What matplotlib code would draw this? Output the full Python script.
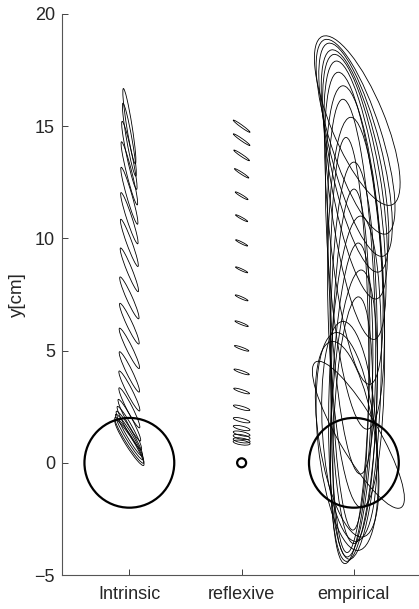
import matplotlib
matplotlib.use('Agg')
import matplotlib.pyplot as plt
from matplotlib.patches import Ellipse, Circle

plt.rcParams['font.family'] = ['Liberation Sans', 'DejaVu Sans']

categories = ['Intrinsic', 'reflexive', 'empirical']
cat_x = [0, 5, 10]
target_r = [2.0, 0.2, 2.0]

# trajectory sample positions (cm), shared by intrinsic and reflexive
traj_y = [0.9, 1.0, 1.15, 1.3, 1.55, 1.9, 2.45, 3.2, 4.05, 5.1,
          6.2, 7.35, 8.6, 9.8, 10.9, 11.9, 12.9, 13.7, 14.4, 15.0]

# intrinsic covariance ellipses: semi-axes (cm) and orientation (deg)
int_a = [1.2, 1.2, 1.18, 1.15, 1.1, 1.05, 1.0, 1.0, 1.0, 1.0,
         1.0, 1.02, 1.05, 1.12, 1.2, 1.32, 1.45, 1.55, 1.65, 1.7]
int_b = [0.18, 0.17, 0.16, 0.15, 0.14, 0.13, 0.13, 0.13, 0.13, 0.13,
         0.13, 0.13, 0.12, 0.12, 0.12, 0.12, 0.12, 0.12, 0.12, 0.12]
int_ang = [122, 122, 121, 120, 119, 118, 117, 117, 116, 116,
           115, 114, 112, 110, 108, 106, 104, 102, 100, 99]

# reflexive covariance ellipses
ref_a = [0.38, 0.38, 0.38, 0.38, 0.38, 0.38, 0.38, 0.37, 0.36, 0.34,
         0.32, 0.31, 0.3, 0.3, 0.31, 0.33, 0.38, 0.42, 0.45, 0.46]
ref_b = [0.1, 0.1, 0.1, 0.09, 0.085, 0.08, 0.07, 0.06, 0.055, 0.05,
         0.045, 0.045, 0.04, 0.04, 0.04, 0.045, 0.045, 0.05, 0.05, 0.05]
ref_ang = [-8, -9, -10, -12, -13, -14, -16, -18, -19, -20,
           -22, -24, -25, -27, -29, -31, -33, -34, -35, -36]

# empirical covariance ellipses (centre offset, centre y, semi-axes, angle)
emp_dx = [0.15, 0.075, 0.075, 0.05, 0.05, 0.05, 0.0, 0.05, -0.1, 0.1,
          -0.2, 0.0, -0.15, 0.05, -0.1, 0.0, -0.05, -0.3, -0.3, 0.2, -0.2]
emp_y = [15.25, 14.53, 13.95, 13.45, 12.75, 11.7, 10.45, 9.15, 7.85, 6.7,
         5.75, 4.9, 4.1, 3.35, 2.65, 2.1, 1.6, 0.95, 1.05, 1.25, 1.4]
emp_a = [4.06, 4.54, 4.9, 5.06, 5.53, 6.26, 6.99, 7.67, 8.36, 8.7,
         8.75, 8.5, 8.1, 7.65, 7.15, 6.5, 5.8, 4.88, 4.41, 3.76, 4.91]
emp_b = [1.2, 1.15, 1.12, 1.1, 1.1, 1.1, 1.1, 1.2, 1.0, 1.25,
         0.85, 1.05, 0.85, 1.15, 0.9, 1.0, 0.85, 1.3, 1.25, 0.9, 1.2]
emp_ang = [112.5, 107.6, 104.5, 102, 99.9, 97.8, 95.8, 94.1, 92.7, 91.6,
           91.0, 90, 88.9, 88.1, 87.6, 87.1, 87.5, 95.9, 99.1, 120.3, 93.5]

fig = plt.figure(figsize=(4.19, 6.09), dpi=100)
ax = fig.add_axes([62 / 419, 34 / 609, 357 / 419, 561 / 609])

line_kw = dict(fill=False, edgecolor='black', linewidth=0.6)

for y, a, b, ang in zip(traj_y, int_a, int_b, int_ang):
    ax.add_patch(Ellipse((cat_x[0], y), 2 * a, 2 * b, angle=ang, **line_kw))

for y, a, b, ang in zip(traj_y, ref_a, ref_b, ref_ang):
    ax.add_patch(Ellipse((cat_x[1], y), 2 * a, 2 * b, angle=ang, **line_kw))

for dx, y, a, b, ang in zip(emp_dx, emp_y, emp_a, emp_b, emp_ang):
    ax.add_patch(Ellipse((cat_x[2] + dx, y), 2 * a, 2 * b, angle=ang, **line_kw))

# start targets
for x, r in zip(cat_x, target_r):
    ax.add_patch(Circle((x, 0), r, fill=False, edgecolor='black', linewidth=1.6))

ax.set_xlim(-3, 12.9)
ax.set_ylim(-5, 20)
ax.set_xticks(cat_x)
ax.set_xticklabels(categories)
ax.set_yticks([-5, 0, 5, 10, 15, 20])
ax.tick_params(axis='both', direction='in', length=4, width=0.7,
               colors='#404040', labelcolor='#262626', labelsize=13)
ax.tick_params(axis='y', pad=5)
ax.tick_params(axis='x', pad=8)
ax.set_ylabel('y[cm]', fontsize=13.5, color='#262626')
ax.yaxis.set_label_coords(-0.1, 0.5)

for side in ['top', 'right']:
    ax.spines[side].set_visible(False)
for side in ['left', 'bottom']:
    ax.spines[side].set_color('#555555')
    ax.spines[side].set_linewidth(0.8)

fig.savefig('out.png', dpi=100, facecolor='white')
